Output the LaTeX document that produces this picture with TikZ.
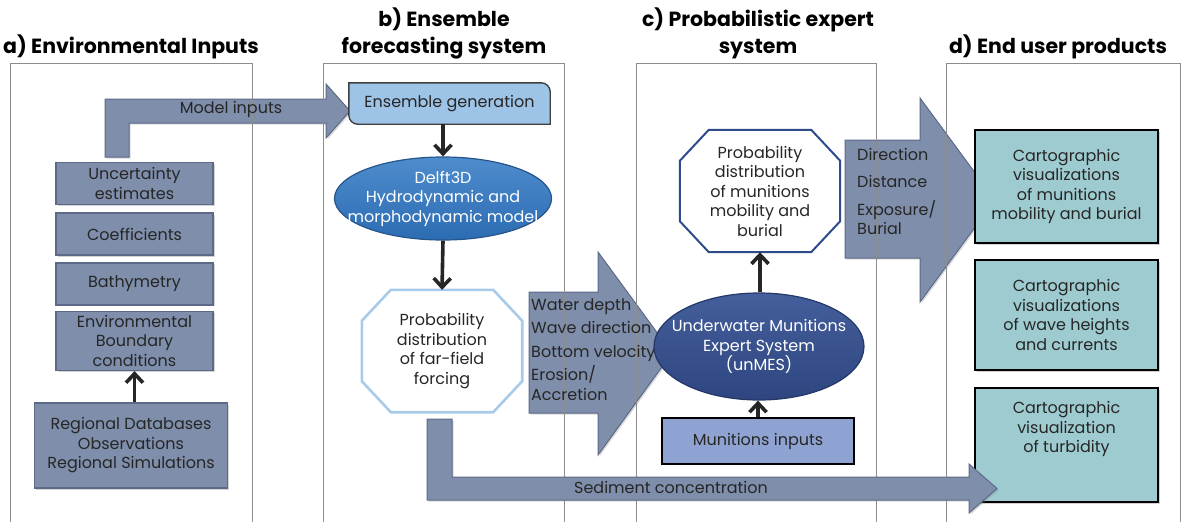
\documentclass[tikz,border=0pt]{standalone}
\usepackage{fontspec}
\setmainfont{Poppins}
\usetikzlibrary{positioning, arrows.meta, shapes.geometric, shadows}

\definecolor{slate}{RGB}{126,142,171}
\definecolor{slateline}{RGB}{92,106,136}
\definecolor{panelgray}{RGB}{140,140,140}
\definecolor{txtgray}{RGB}{38,38,38}
\definecolor{ensfill}{RGB}{157,195,230}
\definecolor{delfttop}{RGB}{78,140,205}
\definecolor{delftbot}{RGB}{44,108,178}
\definecolor{delftline}{RGB}{40,84,140}
\definecolor{unmestop}{RGB}{68,95,156}
\definecolor{unmesbot}{RGB}{46,69,128}
\definecolor{unmesline}{RGB}{36,56,104}
\definecolor{farline}{RGB}{169,203,234}
\definecolor{munline}{RGB}{46,75,140}
\definecolor{muninfill}{RGB}{143,163,210}
\definecolor{cartfill}{RGB}{158,203,208}

\begin{document}
\begin{tikzpicture}[x=1pt, y=-1pt,
    every node/.style={font=\fontsize{16}{19.5}\selectfont, text=txtgray},
    paneltitle/.style={font=\fontsize{20.5}{27}\selectfont\bfseries, text=black, align=center},
    panel/.style={draw=panelgray, line width=0.9pt},
    inbox/.style={draw=slateline, fill=slate, line width=1.6pt, minimum width=157pt, minimum height=42pt, inner sep=1pt, align=center,
        drop shadow={shadow xshift=1.5pt, shadow yshift=-1.5pt, opacity=0.35}},
    blockarrow/.style={fill=slate, draw=slateline, line width=1pt,
        drop shadow={shadow xshift=1.5pt, shadow yshift=-1.5pt, opacity=0.3}},
    octtext/.style={minimum width=160pt, minimum height=122pt, inner sep=0pt, align=center},
    cartbox/.style={draw=black, fill=cartfill, line width=2.4pt, minimum width=183pt, inner sep=1pt, align=center,
        drop shadow={shadow xshift=2pt, shadow yshift=-2pt, opacity=0.35}},
    conn/.style={-{Straight Barb[length=9pt,width=17pt]}, line width=3.6pt, draw=black!85}
  ]
  \useasboundingbox (0,0) rectangle (1182,522);

  % panel titles
  \node[paneltitle] (titlea) at (131,47) {a) Environmental Inputs};
  \node[paneltitle] (titleb) at (444,33.5) {b) Ensemble\\forecasting system};
  \node[paneltitle] (titlec) at (758,33.5) {c) Probabilistic expert\\system};
  \node[paneltitle] (titled) at (1058,47) {d) End user products};

  % block arrows
  \draw[blockarrow] (105,157) -- (105,99) -- (326,99) -- (326,84) -- (350,111)
      -- (326,138) -- (326,123) -- (129,123) -- (129,157) -- cycle;
  \draw[blockarrow] (529,292) -- (598,292) -- (598,252) -- (672,353) -- (598,455)
      -- (598,413) -- (529,413) -- cycle;
  \draw[blockarrow] (845,140) -- (920,140) -- (920,98) -- (995,200) -- (920,302)
      -- (920,258) -- (845,258) -- cycle;

  % panels
  \draw[panel] (10,522) |- (252,63) -- (252,522);
  \draw[panel] (323,522) |- (564,63) -- (564,522);
  \draw[panel] (636,522) |- (876,63) -- (876,522);
  \draw[panel] (946,522) |- (1180,63) -- (1180,522);

  % a) environmental inputs
  \node[inbox] (unc) at (134.5,183.5) {Uncertainty\\estimates};
  \node[inbox, below=7pt of unc] (coef) {Coefficients};
  \node[inbox, below=6pt of coef] (bath) {Bathymetry};
  \node[inbox, below=5pt of bath, minimum height=59pt] (envbc) {Environmental\\Boundary\\conditions};
  \node[inbox, minimum width=193pt, minimum height=85pt] (regional) at (131,445.5)
      {Regional Databases\\Observations\\Regional Simulations};
  \draw[conn] (regional.north -| envbc.south) -- (envbc.south);
  \node (modelin) at (231,109) {Model inputs};

  % b) ensemble forecasting system
  \node[minimum width=201pt, minimum height=41pt, inner sep=0pt] (ens) at (449.5,103.5) {Ensemble generation};
  \draw[draw=black!75, fill=ensfill, line width=1.4pt]
      (ens.north west) -- ([xshift=-9pt]ens.north east)
      .. controls ([xshift=-4pt]ens.north east) and ([yshift=-4pt]ens.north east) .. ([yshift=-9pt]ens.north east)
      -- (ens.south east) -- ([xshift=9pt]ens.south west)
      .. controls ([xshift=4pt]ens.south west) and ([yshift=4pt]ens.south west) .. ([yshift=9pt]ens.south west)
      -- cycle;
  \node at (ens.center) {Ensemble generation};
  \node[ellipse, draw=delftline, line width=1.2pt, top color=delfttop, bottom color=delftbot,
      minimum width=217pt, minimum height=83pt, inner sep=0pt] (delft) at (443,198.5) {};
  \node[align=center, text=white] (delfttext) at (delft.center) {Delft3D\\Hydrodynamic and\\morphodynamic model};
  \draw[conn] (delft.north |- ens.south) -- (delft.north);
  \node[octtext] (farfield) at (442,351) {Probability\\distribution\\of far-field\\forcing};
  \draw[draw=farline, fill=white, line width=2.6pt]
      ([xshift=29pt]farfield.north west) -- ([xshift=-29pt]farfield.north east)
      -- ([yshift=-31pt]farfield.north east) -- ([yshift=31pt]farfield.south east)
      -- ([xshift=-29pt]farfield.south east) -- ([xshift=29pt]farfield.south west)
      -- ([yshift=31pt]farfield.south west) -- ([yshift=-31pt]farfield.north west) -- cycle;
  \node[octtext] at (farfield.center) {Probability\\distribution\\of far-field\\forcing};
  \draw[conn] (delft.south) -- (farfield.north);
  \node[anchor=north west, align=left, text=black!85, inner sep=1pt] (waterlab) at (530,297)
      {Water depth\\[4pt]Wave direction\\[4pt]Bottom velocity\\[4pt]Erosion/\\Accretion};

  % c) probabilistic expert system
  \node[ellipse, draw=unmesline, line width=1.2pt, top color=unmestop, bottom color=unmesbot,
      minimum width=210pt, minimum height=107pt, inner sep=0pt] (unmes) at (759,346.5) {};
  \node[align=center, text=white] (unmestext) at (unmes.center) {Underwater Munitions\\Expert System\\(unMES)};
  \node[octtext] (munoct) at (760,191) {Probability\\distribution\\of munitions\\mobility and\\burial};
  \draw[draw=munline, fill=white, line width=2pt]
      ([xshift=29pt]munoct.north west) -- ([xshift=-29pt]munoct.north east)
      -- ([yshift=-31pt]munoct.north east) -- ([yshift=31pt]munoct.south east)
      -- ([xshift=-29pt]munoct.south east) -- ([xshift=29pt]munoct.south west)
      -- ([yshift=31pt]munoct.south west) -- ([yshift=-31pt]munoct.north west) -- cycle;
  \node[octtext] at (munoct.center) {Probability\\distribution\\of munitions\\mobility and\\burial};
  \node[draw=black, fill=muninfill, line width=1.6pt, minimum width=192pt, minimum height=46pt] (munin) at (758,441)
      {Munitions inputs};
  \draw[conn] (munin.north) -- (munin.north |- unmes.south);
  \draw[conn] (unmes.north -| munoct.south) -- (munoct.south);
  \node[anchor=north west, align=left, text=black!85, inner sep=1pt] (dirlab) at (856,147)
      {Direction\\[8pt]Distance\\[8pt]Exposure/\\Burial};

  % d) end user products
  \node[cartbox, minimum height=113pt] (cartmun) at (1066.5,186.5)
      {Cartographic\\visualizations\\of munitions\\mobility and burial};
  \node[cartbox, minimum height=110pt] (cartwave) at (1066.5,315)
      {Cartographic\\visualizations\\of wave heights\\and currents};
  \node[cartbox, minimum height=114pt] (cartturb) at (1066.5,445)
      {Cartographic\\visualization\\of turbidity\\[16pt]};

  % sediment arrow
  \draw[blockarrow] (427,419) -- (452,419) -- (452,477) -- (969,477) -- (969,464) -- (997,488.5)
      -- (969,513) -- (969,500) -- (427,500) -- cycle;
  \node (sedlab) at (671,487) {Sediment concentration};
\end{tikzpicture}
\end{document}
